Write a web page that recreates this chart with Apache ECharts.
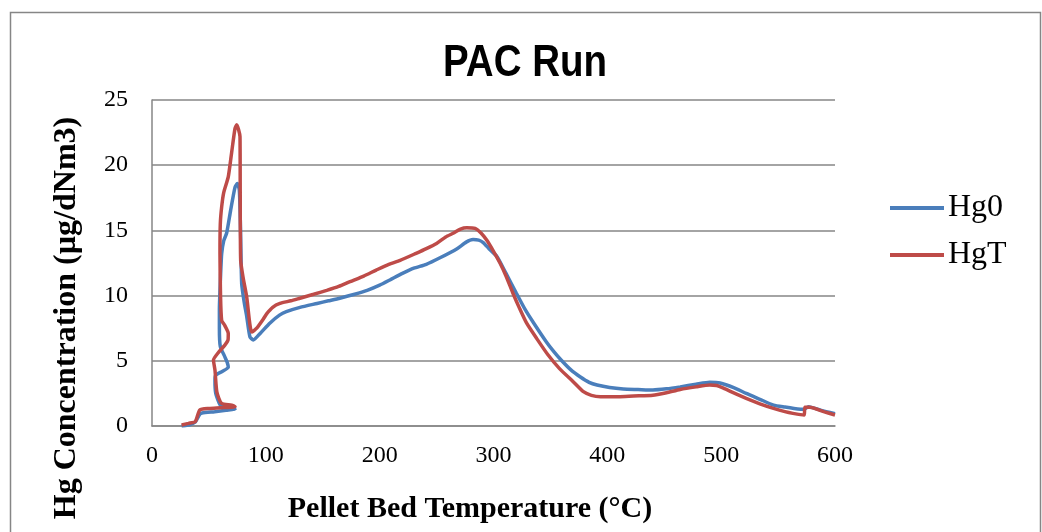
<!DOCTYPE html>
<html>
<head>
<meta charset="utf-8">
<title>PAC Run</title>
<script src="https://cdn.jsdelivr.net/npm/echarts@6/dist/echarts.min.js"></script>
<style>
  html, body { margin: 0; padding: 0; background: #ffffff; }
  #chart { width: 1042px; height: 532px; }
</style>
</head>
<body>
<div id="chart"></div>
<script>
// Pellet bed temperature (°C) vs Hg concentration (µg/dNm3), [temperature, concentration]
const hg0 = [
  [26,0.0],[33,0.1],[38,0.3],[42,0.9],[44,1.0],[55,1.1],[65,1.2],[73,1.28],[66,1.4],[60,1.6],
  [56,2.5],[55.3,3.5],[56,3.9],[62,4.2],[67,4.5],[66,4.9],[64,5.3],[60,6.1],[59.2,7.5],[59.2,8.9],
  [60,11.0],[61.2,13.2],[63,14.2],[65.6,14.8],[69,16.5],[72.9,18.3],[75,18.6],[76.7,18.1],[77.5,16.0],[77.9,14.5],
  [78.8,10.9],[81,9.5],[83.2,8.4],[86,6.85],[89,6.6],[95,7.1],[103.7,7.9],[112,8.5],[118,8.77],[130,9.1],
  [145,9.4],[155,9.6],[165,9.8],[178,10.1],[189,10.4],[200,10.8],[209,11.2],[220,11.7],[230,12.1],[241,12.4],
  [253,12.9],[268,13.6],[276,14.1],[282,14.3],[287,14.25],[291,14.06],[296,13.6],[303,13.0],[311,11.7],[320,10.2],
  [328,8.9],[336,7.8],[346,6.5],[353,5.7],[360,5.0],[368,4.3],[376,3.78],[384,3.35],[391,3.14],[402,2.95],
  [414,2.84],[427,2.8],[440,2.76],[452,2.85],[464,3.0],[478,3.2],[490,3.35],[499,3.3],[511,2.95],[522,2.5],
  [534,2.05],[546,1.6],[556,1.45],[564,1.35],[573,1.28],[576.6,1.48],[588,1.2],[600,0.95]
];
const hgT = [
  [26,0.08],[32,0.2],[38,0.33],[42,1.23],[50,1.35],[60,1.4],[73,1.48],[70,1.6],[61,1.74],[57,2.6],
  [55.3,4.3],[54,5.06],[58,5.6],[64,6.2],[66.8,6.6],[67,7.1],[64,7.7],[61.2,8.1],[60.2,10.0],[59.7,13.25],
  [60,15.5],[61.2,16.8],[63,17.9],[67,19.1],[70,21.0],[72.9,22.8],[74.4,23.1],[77.3,22.2],[77.5,18.0],[77.9,12.7],
  [80,11.4],[83.2,9.9],[87.6,7.2],[92,7.5],[97.8,8.2],[100.7,8.6],[106,9.1],[112.4,9.4],[122,9.6],[130,9.8],
  [142,10.1],[153.5,10.4],[164,10.7],[174,11.07],[186,11.5],[197,11.96],[208,12.4],[218,12.7],[232,13.24],[241,13.6],
  [250,14.0],[258,14.5],[265,14.8],[271,15.1],[276.5,15.2],[283.8,15.15],[289,14.8],[294,14.26],[300,13.4],[305.7,12.5],
  [311,11.5],[317,10.2],[323,9.0],[329,7.9],[338,6.7],[348,5.44],[358,4.4],[370,3.4],[379,2.63],[386,2.35],
  [394,2.25],[410,2.25],[423,2.3],[440,2.35],[452,2.55],[464,2.8],[478,3.0],[490,3.14],[496,3.1],[502,2.9],
  [512,2.5],[522,2.12],[534,1.7],[546,1.35],[556,1.1],[563,0.97],[572.8,0.84],[573.6,1.43],[578,1.43],[590,1.1],
  [600,0.84]
];
const seriesNames = ['Hg0', 'HgT'];
const chartTitle = 'PAC Run';
const xTitle = 'Pellet Bed Temperature (°C)';
const yTitle = 'Hg Concentration (µg/dNm3)';

const serif = '"Liberation Serif", "DejaVu Serif", serif';
const chart = echarts.init(document.getElementById('chart'), null, { renderer: 'canvas' });

chart.setOption({
  backgroundColor: '#ffffff',
  animation: false,
  legend: {
    orient: 'vertical',
    left: 885, top: 187,
    icon: 'rect',
    itemWidth: 54, itemHeight: 4,
    itemGap: 15,
    textStyle: { fontFamily: serif, fontSize: 32, color: '#000', lineHeight: 32, padding: [0, 0, 0, -1] },
    data: seriesNames
  },
  grid: { left: 152, right: 207, top: 100, bottom: 106, containLabel: false },
  xAxis: {
    type: 'value', min: 0, max: 600, interval: 100,
    axisLine: { show: true, onZero: false, lineStyle: { color: '#868686', width: 1.5 } },
    axisTick: { show: false },
    splitLine: { show: false },
    axisLabel: { margin: 18, fontFamily: serif, fontSize: 24, color: '#000' }
  },
  yAxis: {
    type: 'value', min: 0, max: 25, interval: 5,
    axisLine: { show: true, lineStyle: { color: '#868686', width: 1.5 } },
    axisTick: { show: false },
    splitLine: { show: true, lineStyle: { color: '#868686', width: 1.5 } },
    axisLabel: { margin: 24, fontFamily: serif, fontSize: 24, color: '#000' }
  },
  series: [
    { name: seriesNames[0], type: 'line', data: hg0, showSymbol: false, smooth: 0.2,
      lineStyle: { color: '#4a7ebb', width: 3.5 }, itemStyle: { color: '#4a7ebb' } },
    { name: seriesNames[1], type: 'line', data: hgT, showSymbol: false, smooth: 0.2,
      lineStyle: { color: '#be4b48', width: 3.5 }, itemStyle: { color: '#be4b48' } }
  ],
  graphic: [
    { type: 'rect', left: 8, top: 10, silent: true, z: -1,
      shape: { width: 1030, height: 540 },
      style: { fill: 'none', stroke: '#868686', lineWidth: 1.5 } },
    // condensed bold heading
    { type: 'text', x: 525, y: 64, scaleX: 0.875, silent: true,
      style: { text: chartTitle, fontFamily: '"Liberation Sans", "Noto Sans", sans-serif', fontWeight: 'bold',
               fontSize: 44, fill: '#000', align: 'center', verticalAlign: 'middle' } },
    { type: 'text', x: 470, y: 509, silent: true,
      style: { text: xTitle, fontFamily: serif, fontWeight: 'bold', fontSize: 30, fill: '#000',
               align: 'center', verticalAlign: 'middle' } },
    { type: 'text', x: 67, y: 318, rotation: Math.PI / 2, silent: true,
      style: { text: yTitle, fontFamily: serif, fontWeight: 'bold', fontSize: 32, fill: '#000',
               align: 'center', verticalAlign: 'middle' } }
  ]
});
</script>
</body>
</html>
